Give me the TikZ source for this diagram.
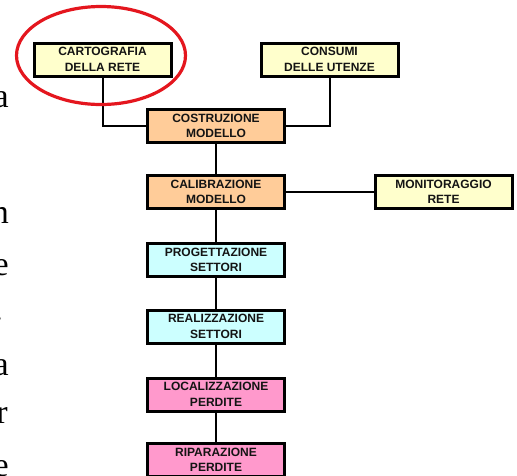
\documentclass[tikz,border=0pt]{standalone}
\usepackage{fontspec}
\setmainfont{Liberation Serif}
\newfontfamily\boxfont{Liberation Sans}
\definecolor{paleyellow}{HTML}{FFFFCC}
\definecolor{peach}{HTML}{FFCC99}
\definecolor{palecyan}{HTML}{CCFFFF}
\definecolor{pink}{HTML}{FF99CC}
\definecolor{ringred}{RGB}{228,22,30}
\begin{document}
\begin{tikzpicture}[x=1pt,y=-1pt,
  stage/.style={draw=black, line width=2pt, minimum width=136pt,
    minimum height=32pt, inner sep=0pt, align=center, text=black!92,
    font=\boxfont\bfseries\fontsize{12}{15.5}\selectfont},
  input/.style={stage, fill=paleyellow},
  model/.style={stage, fill=peach},
  sector/.style={stage, fill=palecyan},
  loss/.style={stage, fill=pink},
  link/.style={line width=2pt, black},
  bodytext/.style={anchor=base east, inner sep=0pt,
    font=\fontsize{34}{40}\selectfont}]
\useasboundingbox (0,0) rectangle (517,475);

% cropped body text along the left margin
\node[bodytext] (t1) at (9,107) {a};
\node[bodytext] (t2) at (9,223) {n};
\node[bodytext] (t3) at (9,275) {e};
\node[bodytext] (t4) at (3,320) {.};
\node[bodytext] (t5) at (9,375) {a};
\node[bodytext] (t6) at (8,423) {r};
\node[bodytext] (t7) at (9,476) {e};

% input data
\node[input] (cart) at (102.5,59.5) {CARTOGRAFIA\\DELLA RETE};
\node[input] (cons) at (329.5,59.5) {CONSUMI\\DELLE UTENZE};

% main chain
\node[model]  (cost) at (216,126)   {COSTRUZIONE\\MODELLO};
\node[model]  (cali) at (216,192)   {CALIBRAZIONE\\MODELLO};
\node[input]  (moni) at (443.5,192) {MONITORAGGIO\\RETE};
\node[sector] (prog) at (216,260)   {PROGETTAZIONE\\SETTORI};
\node[sector] (real) at (216,326.5) {REALIZZAZIONE\\SETTORI};
\node[loss]   (loca) at (216,394.5) {LOCALIZZAZIONE\\PERDITE};
\node[loss]   (ripa) at (216,460)   {RIPARAZIONE\\PERDITE};

% connectors
\draw[link] (cart.south) |- (cost.west);
\draw[link] (cons.south) |- (cost.east);
\draw[link] (cost) -- (cali);
\draw[link] (cali) -- (moni);
\draw[link] (cali) -- (prog);
\draw[link] (prog) -- (real);
\draw[link] (real) -- (loca);
\draw[link] (loca) -- (ripa);

% redraw box outlines above the connector ends
\foreach \n in {cart,cons,cost,cali,moni,prog,real,loca,ripa}
  \draw[line width=2pt] (\n.north west) rectangle (\n.south east);

% highlight ring
\draw[ringred, line width=3.2pt] (101,55.5) ellipse [x radius=84.5pt, y radius=49pt];
\end{tikzpicture}
\end{document}
